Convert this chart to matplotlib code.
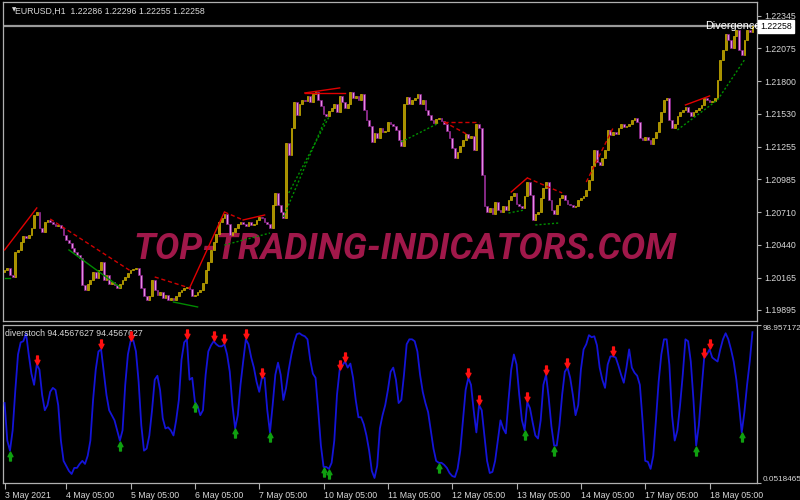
import numpy as np
import matplotlib.pyplot as plt
from matplotlib.path import Path
from matplotlib.transforms import offset_copy

# ----- datos ------------------------------------------------------------------
closes = [
    1.20228, 1.20245, 1.20186, 1.20170, 1.20378, 1.20395, 1.20461, 1.20511, 1.20495, 1.20520,
    1.20578, 1.20686, 1.20711, 1.20578, 1.20545, 1.20628, 1.20645, 1.20628, 1.20611, 1.20595,
    1.20603, 1.20578, 1.20520, 1.20478, 1.20453, 1.20411, 1.20378, 1.20353, 1.20328, 1.20103,
    1.20061, 1.20111, 1.20145, 1.20211, 1.20161, 1.20228, 1.20295, 1.20145, 1.20186, 1.20111,
    1.20128, 1.20103, 1.20078, 1.20111, 1.20145, 1.20170, 1.20203, 1.20228, 1.20236, 1.20245,
    1.20186, 1.20078, 1.20011, 1.19978, 1.20011, 1.20145, 1.20061, 1.20020, 1.20045, 1.19995,
    1.20020, 1.19978, 1.19995, 1.19978, 1.20011, 1.20045, 1.20061, 1.20078, 1.20086, 1.20070,
    1.20011, 1.20020, 1.20045, 1.20061, 1.20120, 1.20228, 1.20295, 1.20395, 1.20461, 1.20528,
    1.20628, 1.20661, 1.20695, 1.20611, 1.20520, 1.20545, 1.20578, 1.20611, 1.20628, 1.20611,
    1.20595, 1.20628, 1.20603, 1.20611, 1.20645, 1.20670, 1.20661, 1.20628, 1.20611, 1.20578,
    1.20770, 1.20870, 1.20770, 1.20711, 1.20661, 1.21286, 1.21186, 1.21411, 1.21628, 1.21520,
    1.21611, 1.21645, 1.21636, 1.21678, 1.21628, 1.21695, 1.21711, 1.21645, 1.21595, 1.21528,
    1.21511, 1.21553, 1.21578, 1.21611, 1.21545, 1.21678, 1.21628, 1.21578, 1.21611, 1.21711,
    1.21661, 1.21678, 1.21645, 1.21695, 1.21561, 1.21478, 1.21428, 1.21295, 1.21370, 1.21328,
    1.21411, 1.21378, 1.21386, 1.21461, 1.21445, 1.21428, 1.21395, 1.21311, 1.21261, 1.21611,
    1.21670, 1.21611, 1.21645, 1.21661, 1.21695, 1.21611, 1.21645, 1.21561, 1.21520, 1.21478,
    1.21453, 1.21486, 1.21495, 1.21470, 1.21445, 1.21386, 1.21328, 1.21245, 1.21161, 1.21211,
    1.21261, 1.21311, 1.21361, 1.21328, 1.21345, 1.21228, 1.21445, 1.21411, 1.21020, 1.20761,
    1.20711, 1.20745, 1.20695, 1.20795, 1.20728, 1.20711, 1.20761, 1.20728, 1.20811, 1.20845,
    1.20870, 1.20778, 1.20761, 1.20745, 1.20845, 1.20961, 1.20853, 1.20645, 1.20695, 1.20711,
    1.20828, 1.20911, 1.20961, 1.20811, 1.20728, 1.20695, 1.20770, 1.20828, 1.20853, 1.20811,
    1.20778, 1.20770, 1.20753, 1.20761, 1.20811, 1.20828, 1.20845, 1.20895, 1.20978, 1.21095,
    1.21228, 1.21128, 1.21103, 1.21161, 1.21228, 1.21395, 1.21353, 1.21378, 1.21361, 1.21411,
    1.21445, 1.21420, 1.21428, 1.21445, 1.21478, 1.21495, 1.21461, 1.21328, 1.21311, 1.21336,
    1.21311, 1.21278, 1.21328, 1.21378, 1.21461, 1.21545, 1.21645, 1.21661, 1.21478, 1.21411,
    1.21445, 1.21511, 1.21545, 1.21561, 1.21586, 1.21545, 1.21511, 1.21545, 1.21561, 1.21578,
    1.21603, 1.21661, 1.21645, 1.21628, 1.21636, 1.21661, 1.21811, 1.21978, 1.22061, 1.22195,
    1.22145, 1.22078, 1.22178, 1.22228, 1.22061, 1.22020, 1.22145, 1.22228, 1.22211, 1.22258,
]
first_open = 1.20210
bid = 1.22258

stoch = [
    50.1, 26.6, 20.3, 33.0, 58.3, 80.5, 88.1, 88.8, 93.8, 80.5,
    68.5, 61.5, 74.2, 71.0, 55.2, 45.6, 48.8, 57.1, 59.6, 58.3,
    48.8, 26.6, 13.9, 10.8, 7.6, 5.7, 9.5, 9.5, 12.0, 13.9,
    12.0, 17.1, 26.6, 52.0, 71.0, 82.4, 83.7, 69.7, 55.2, 45.6,
    42.5, 39.3, 33.0, 26.6, 33.0, 61.5, 80.5, 88.8, 89.4, 82.4,
    63.4, 36.1, 20.3, 21.6, 29.8, 45.6, 64.7, 67.2, 58.3, 40.6,
    34.2, 34.9, 33.0, 29.8, 39.3, 52.0, 77.3, 88.1, 90.0, 64.7,
    65.9, 50.7, 48.2, 42.5, 45.6, 67.8, 82.4, 86.2, 88.8, 86.9,
    85.6, 85.6, 86.9, 80.5, 69.7, 48.8, 34.2, 42.5, 61.5, 76.1,
    90.0, 86.9, 78.6, 72.3, 63.4, 57.1, 65.9, 65.9, 45.6, 31.7,
    48.8, 67.8, 75.4, 67.8, 52.0, 59.6, 71.0, 80.5, 88.1, 93.2,
    93.8, 92.6, 91.9, 90.0, 77.3, 68.5, 65.9, 45.6, 23.5, 10.1,
    10.1, 8.9, 12.7, 26.6, 55.2, 71.0, 73.5, 76.1, 72.3, 74.8,
    65.9, 52.0, 41.2, 41.2, 36.8, 29.8, 20.3, 7.6, 3.2, 10.8,
    34.2, 42.5, 48.8, 58.3, 69.7, 72.3, 64.7, 50.1, 52.0, 67.8,
    86.9, 90.0, 90.0, 88.8, 82.4, 67.8, 57.1, 50.1, 44.4, 33.0,
    21.6, 13.9, 12.7, 12.7, 11.4, 9.5, 6.3, 4.4, 3.8, 8.9,
    20.3, 39.3, 58.3, 65.9, 61.5, 45.6, 31.7, 48.8, 45.6, 29.8,
    13.9, 6.3, 7.0, 13.9, 26.6, 39.3, 34.2, 31.1, 52.0, 71.0,
    80.5, 74.2, 55.2, 39.3, 33.0, 50.7, 46.9, 38.0, 29.8, 27.9,
    39.3, 61.5, 67.8, 53.3, 35.5, 23.5, 23.5, 36.1, 55.2, 69.7,
    72.3, 65.9, 55.2, 42.5, 48.8, 71.0, 83.7, 86.9, 92.6, 91.3,
    91.9, 86.2, 72.3, 64.7, 59.6, 74.2, 79.3, 79.3, 78.6, 73.5,
    67.8, 62.8, 72.3, 83.7, 72.3, 69.1, 67.2, 61.5, 39.3, 13.9,
    13.3, 8.9, 17.1, 39.3, 63.4, 80.5, 90.0, 90.0, 74.2, 42.5,
    26.6, 33.0, 48.8, 67.8, 90.0, 88.8, 76.1, 52.0, 23.5, 36.1,
    58.3, 78.6, 80.5, 83.7, 78.6, 77.3, 76.1, 83.7, 90.0, 93.8,
    90.0, 83.7, 76.1, 64.7, 48.8, 31.7, 44.4, 61.5, 76.1, 94.4567627,
]
stoch_min, stoch_max = 0.0518465, 98.957172

# barras donde el indicador marca señal
arrows_down = [12, 36, 47, 68, 78, 82, 90, 96, 125, 127, 173, 177, 195, 202, 210, 227, 261, 263]
arrows_up = [2, 43, 71, 86, 99, 119, 121, 162, 194, 205, 258, 275]

# líneas de divergencia: (barra0, precio0, barra1, precio1)
bear_solid = [(0, 1.20395, 12, 1.20745), (69, 1.20078, 82, 1.20711), (89, 1.20645, 97, 1.20686),
              (112, 1.21703, 125, 1.21745), (112, 1.21703, 127, 1.21703),
              (189, 1.20878, 195, 1.20995), (254, 1.21603, 263, 1.21678)]
bear_dashed = [(17, 1.20653, 47, 1.20220), (56, 1.20170, 69, 1.20078), (82, 1.20711, 89, 1.20645),
               (164, 1.21461, 177, 1.21461), (164, 1.21461, 173, 1.21353),
               (195, 1.20995, 208, 1.20870), (217, 1.20961, 227, 1.21411)]
bull_solid = [(0, 1.20161, 2, 1.20161), (24, 1.20395, 43, 1.20086), (63, 1.19961, 72, 1.19920)]
bull_dashed = [(82, 1.20436, 99, 1.20536), (104, 1.20670, 120, 1.21503), (106, 1.20870, 121, 1.21503),
               (148, 1.21295, 162, 1.21453), (188, 1.20703, 194, 1.20728), (198, 1.20603, 207, 1.20620),
               (251, 1.21395, 266, 1.21645), (266, 1.21645, 276, 1.21978)]

price_ticks = [1.22345, 1.22075, 1.21800, 1.21530, 1.21255, 1.20985, 1.20710, 1.20440, 1.20165, 1.19895]
date_ticks = [0, 23, 47, 71, 95, 119, 143, 167, 191, 215, 239, 263]
date_labels = ["3 May 2021", "4 May 05:00", "5 May 05:00", "6 May 05:00", "7 May 05:00",
               "10 May 05:00", "11 May 05:00", "12 May 05:00", "13 May 05:00",
               "14 May 05:00", "17 May 05:00", "18 May 05:00"]
# ------------------------------------------------------------------------------

FONT = "Liberation Sans"
FG = "#d8d8d8"
FRAME = "#b0b0b0"
UP, UP_EDGE = "#a89000", "#d0b400"
DN, DN_EDGE = "#e48ce4", "#8a1c8a"


def style_axes(ax):
    ax.set_facecolor("black")
    for s in ax.spines.values():
        s.set_color(FRAME)
        s.set_linewidth(0.9)
    ax.yaxis.tick_right()
    ax.tick_params(axis="y", colors=FRAME, labelcolor=FG, labelsize=6.3, length=3, width=0.8, pad=2)
    ax.set_xlim(-0.6, 280.7)


def main():
    plt.rcParams["font.family"] = [FONT, "DejaVu Sans"]
    fig = plt.figure(figsize=(8, 5), dpi=100, facecolor="black")
    ax1 = fig.add_axes([3 / 800, 179 / 500, 754 / 800, 319 / 500])
    ax2 = fig.add_axes([3 / 800, 17 / 500, 754 / 800, 158 / 500])
    style_axes(ax1)
    style_axes(ax2)

    # ---- velas
    c = np.array(closes)
    o = np.array([first_open] + closes[:-1])
    x = np.arange(len(c))
    up = c >= o
    ax1.bar(x[up], (c - o)[up], bottom=o[up], width=0.66, color=UP, edgecolor=UP_EDGE, lw=0.5, zorder=3)
    ax1.bar(x[~up], (c - o)[~up], bottom=o[~up], width=0.66, color=DN, edgecolor=DN_EDGE, lw=0.5, zorder=3)

    for segs, col, ls in [(bear_solid, "#e00000", "-"), (bear_dashed, "#d00000", (0, (3, 2))),
                          (bull_solid, "#008a00", "-"), (bull_dashed, "#009000", (0, (1.5, 1.5)))]:
        for i0, p0, i1, p1 in segs:
            ax1.plot([i0, i1], [p0, p1], color=col, ls=ls, lw=1.0, zorder=4)

    ax1.axhline(bid, color="#9a9a9a", lw=1.6, zorder=2)
    ax1.text(149.3, 1.20403, "TOP-TRADING-INDICATORS.COM", color="#a0184a", fontsize=26.3,
             family="Roboto", weight="bold", style="italic", ha="center", va="center", zorder=1)

    ax1.set_ylim(1.19803, 1.22461)
    ax1.set_yticks(price_ticks)
    ax1.set_yticklabels([f"{p:.5f}" for p in price_ticks])
    ax1.set_xticks([])

    ax1.text(0.012, 0.982, "\u25bc", transform=ax1.transAxes, color=FG, fontsize=4,
             family="DejaVu Sans", va="top")
    ax1.text(0.016, 0.985, "EURUSD,H1  1.22286 1.22296 1.22255 1.22258", transform=ax1.transAxes,
             color=FG, fontsize=6.3, va="top")
    fig.text(705 / 800, 1 - 26 / 500, "Divergence", color="white", fontsize=7.8, va="center", zorder=5)
    fig.text(760 / 800, 1 - 26.5 / 500, "1.22258", color="black", fontsize=6.3, va="center", zorder=6,
             bbox=dict(boxstyle="square,pad=0.25", fc="white", ec="white"))

    # ---- estocástico
    ax2.plot(x, stoch, color="#1414d8", lw=1.3, zorder=3)
    s = np.array(stoch)
    down_arrow = Path([(-0.2, 1), (0.2, 1), (0.2, 0.05), (0.55, 0.05), (0, -1),
                       (-0.55, 0.05), (-0.2, 0.05), (-0.2, 1)], closed=True)
    up_arrow = Path([(-0.2, -1), (0.2, -1), (0.2, -0.05), (0.55, -0.05), (0, 1),
                     (-0.55, -0.05), (-0.2, -0.05), (-0.2, -1)], closed=True)
    ax2.plot(arrows_down, s[arrows_down], ls="none", marker=down_arrow, ms=6.5, color="#ff1010",
             transform=offset_copy(ax2.transData, fig, y=5, units="dots"), zorder=5)
    ax2.plot(arrows_up, s[arrows_up], ls="none", marker=up_arrow, ms=6.5, color="#10a010",
             transform=offset_copy(ax2.transData, fig, y=-5, units="dots"), zorder=5)

    ax2.set_ylim(stoch_min, stoch_max)
    ax2.set_yticks([stoch_min, stoch_max])
    ax2.set_yticklabels(["0.0518465", "98.957172"])
    ax2.tick_params(axis="y", labelsize=5.9, pad=1)
    lbls = ax2.get_yticklabels()
    lbls[0].set_va("bottom")
    lbls[1].set_va("top")
    ax2.text(0.003, 0.975, "diverstoch 94.4567627 94.4567627", transform=ax2.transAxes,
             color=FG, fontsize=6.3, va="top")

    ax2.set_xticks(date_ticks)
    ax2.set_xticklabels(date_labels)
    ax2.tick_params(axis="x", colors=FRAME, labelcolor=FG, labelsize=6.3, length=4, width=0.8, pad=1.5)
    for lbl in ax2.get_xticklabels():
        lbl.set_ha("left")

    fig.savefig("out.png", dpi=100, facecolor="black")


if __name__ == "__main__":
    main()
